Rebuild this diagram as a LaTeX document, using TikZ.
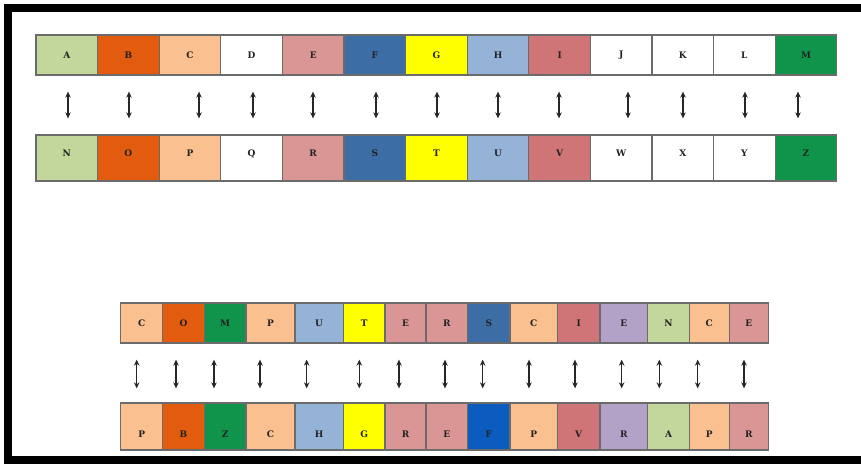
\documentclass[tikz,border=0pt]{standalone}
\usepackage{fontspec}
\newfontfamily\cellfont{DejaVu Serif}
\usetikzlibrary{arrows.meta}
\definecolor{boxgray}{HTML}{6B6B6B}
\definecolor{txt}{HTML}{222222}
\definecolor{cOlive}{HTML}{C3D69B}
\definecolor{cOrange}{HTML}{E35B0F}
\definecolor{cPeach}{HTML}{FAC090}
\definecolor{cPink}{HTML}{D99694}
\definecolor{cSteel}{HTML}{3D6DA5}
\definecolor{cYellow}{HTML}{FFFF00}
\definecolor{cLBlue}{HTML}{95B3D7}
\definecolor{cRose}{HTML}{D07577}
\definecolor{cGreen}{HTML}{10934A}
\definecolor{cLav}{HTML}{B3A2C7}
\definecolor{cBlue}{HTML}{0B5CBE}
\begin{document}
\begin{tikzpicture}[x=1pt,y=-1pt,
  cell/.style={draw=boxgray, line width=1.3pt, inner sep=0pt,
    font=\cellfont\bfseries\fontsize{9}{10}\selectfont, text=txt},
  arr/.style={{Stealth[length=6pt,width=5.5pt]}-{Stealth[length=6pt,width=5.5pt]}, line width=1.2pt, draw=black!85}]
\useasboundingbox (0,0) rectangle (861,464);
\fill[white] (0,0) rectangle (861,464);
% frame
\fill[black] (4,4) rectangle (861,12);
\fill[black] (4,4) rectangle (12,464);
\fill[black] (4,456) rectangle (861,464);
% alphabet rows
\foreach \i/\a/\b/\col/\ax in {0/A/N/cOlive/68,1/B/O/cOrange/129,2/C/P/cPeach/199,3/D/Q/white/253,4/E/R/cPink/313,5/F/S/cSteel/376,6/G/T/cYellow/437,7/H/U/cLBlue/498,8/I/V/cRose/559,9/J/W/white/628,10/K/X/white/683,11/L/Y/white/745,12/M/Z/cGreen/798}{
  \pgfmathsetmacro\cx{36+61.6*\i+30.8}
  \pgfmathsetmacro\dx{\ax-\cx}
  \node[cell, fill=\col, minimum width=61.6pt, minimum height=40pt] (t\i) at (\cx,55) {\a};
  \node[cell, fill=\col, minimum width=61.6pt, minimum height=46pt, text height=6.5pt, text depth=10pt] (n\i) at (\cx,158) {\b};
  \draw[arr] ([xshift=\dx pt, yshift=-16pt]t\i.south) -- ([xshift=\dx pt, yshift=16pt]n\i.north);
}
% COMPUTERSCIENCE rows
\foreach \i/\l/\r/\a/\b/\ca/\cb/\ax in {
  0/120.7/162.7/C/P/cPeach/cPeach/136.7,
  1/162.7/204.3/O/B/cOrange/cOrange/176,
  2/204.3/246/M/Z/cGreen/cGreen/214,
  3/246/295/P/C/cPeach/cPeach/260,
  4/295/343.3/U/H/cLBlue/cLBlue/306.7,
  5/343.3/385/T/G/cYellow/cYellow/359.3,
  6/385/426/E/R/cPink/cPink/399,
  7/426/467.5/R/E/cPink/cPink/445,
  8/467.5/510/S/F/cSteel/cBlue/482.7,
  9/510/557.3/C/P/cPeach/cPeach/529,
  10/557.3/600/I/V/cRose/cRose/575,
  11/600/647.7/E/R/cLav/cLav/621.7,
  12/647.7/689.3/N/A/cOlive/cOlive/659.3,
  13/689.3/729.3/C/P/cPeach/cPeach/697.7,
  14/729.3/768.3/E/R/cPink/cPink/744}{
  \pgfmathsetmacro\cx{(\l+\r)/2}
  \pgfmathsetmacro\w{\r-\l}
  \pgfmathsetmacro\dx{\ax-\cx}
  \node[cell, fill=\ca, minimum width=\w pt, minimum height=40pt] (p\i) at (\cx,323) {\a};
  \node[cell, fill=\cb, minimum width=\w pt, minimum height=47pt, text height=21pt, text depth=0pt] (q\i) at (\cx,426.5) {\b};
  \draw[arr] ([xshift=\dx pt, yshift=-16pt]p\i.south) -- ([xshift=\dx pt, yshift=14pt]q\i.north);
}
\end{tikzpicture}
\end{document}
